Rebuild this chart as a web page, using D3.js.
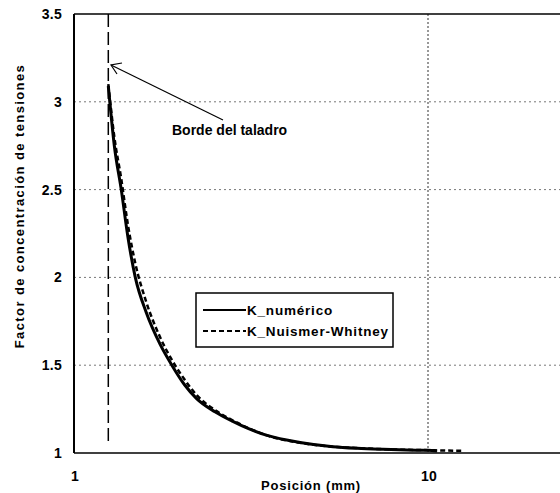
<!DOCTYPE html>
<html>
<head>
<meta charset="utf-8">
<script src="https://cdnjs.cloudflare.com/ajax/libs/d3/7.8.5/d3.min.js"></script>
<style>
  html, body { margin: 0; padding: 0; background: #fff; overflow: hidden; }
  svg { display: block; }
  text { font-family: Arial, "Liberation Sans", sans-serif; font-weight: bold; fill: #000; }
</style>
</head>
<body>
<div id="chart"></div>
<script>
// ---- data ----
var posNumerico = [1.25, 1.3, 1.36, 1.42, 1.49, 1.6, 1.75, 1.89, 2.05, 2.22, 2.5, 2.81, 3.1, 3.51, 4.35, 5.39, 6.3, 7.46, 8.7, 10, 10.6];
var kNumerico   = [3.09, 2.75, 2.5, 2.23, 2.0, 1.8, 1.62, 1.5, 1.39, 1.31, 1.235, 1.18, 1.14, 1.1, 1.06, 1.036, 1.027, 1.021, 1.017, 1.015, 1.012];

var posNuismer = [1.25, 1.3, 1.36, 1.42, 1.49, 1.6, 1.75, 1.89, 2.05, 2.22, 2.5, 2.81, 3.1, 3.51, 4.35, 5.39, 6.3, 7.46, 8.7, 10, 11, 12.6];
var kNuismer   = [3.1, 2.8, 2.56, 2.3, 2.08, 1.86, 1.66, 1.53, 1.42, 1.33, 1.245, 1.185, 1.143, 1.1, 1.058, 1.036, 1.028, 1.022, 1.018, 1.016, 1.014, 1.013];

var bordePos = 1.25;          // hole edge
var yTicks = [1, 1.5, 2, 2.5, 3, 3.5];
var xTicks = [1, 10];
var legendLabels = ["K_numérico", "K_Nuismer-Whitney"];

// ---- layout ----
var attrs = {
  width: 560,
  height: 493,
  left: 74,
  top: 14,
  bottom: 453,
  decade: 354
};

var svg = d3.select("#chart").append("svg")
  .attr("width", attrs.width)
  .attr("height", attrs.height);

// the plot keeps going past the right edge of the picture
var x = d3.scaleLog().domain([1, 100]).range([attrs.left, attrs.left + 2 * attrs.decade]);
var y = d3.scaleLinear().domain([1, 3.5]).range([attrs.bottom, attrs.top]);

// horizontal dotted grid
svg.selectAll(".hgrid").data(yTicks.filter(function(d) { return d > 1 && d < 3.5; }))
  .enter().append("line")
  .attr("class", "hgrid")
  .attr("x1", attrs.left).attr("x2", attrs.width)
  .attr("y1", function(d) { return y(d); }).attr("y2", function(d) { return y(d); })
  .attr("stroke", "#777").attr("stroke-width", 1).attr("stroke-dasharray", "2,3");

// vertical grid at 10
svg.append("line")
  .attr("x1", x(10)).attr("x2", x(10))
  .attr("y1", y(3.5)).attr("y2", y(1))
  .attr("stroke", "#333").attr("stroke-width", 1).attr("stroke-dasharray", "2,2");

// top border + axes
svg.append("line")
  .attr("x1", attrs.left).attr("x2", attrs.width)
  .attr("y1", y(3.5)).attr("y2", y(3.5))
  .attr("stroke", "#000").attr("stroke-width", 1.5);
svg.append("line")
  .attr("x1", attrs.left).attr("x2", attrs.width)
  .attr("y1", y(1)).attr("y2", y(1))
  .attr("stroke", "#000").attr("stroke-width", 1.5);
svg.append("line")
  .attr("x1", attrs.left).attr("x2", attrs.left)
  .attr("y1", y(3.5)).attr("y2", y(1))
  .attr("stroke", "#000").attr("stroke-width", 2);

// y tick labels
svg.selectAll(".ylab").data(yTicks).enter().append("text")
  .attr("class", "ylab")
  .attr("x", attrs.left - 12)
  .attr("y", function(d) { return y(d) + 5; })
  .attr("text-anchor", "end")
  .attr("font-size", 14)
  .attr("letter-spacing", 0.3)
  .text(function(d) { return d; });

// x tick labels
svg.selectAll(".xlab").data(xTicks).enter().append("text")
  .attr("class", "xlab")
  .attr("x", function(d) { return x(d) + 1; })
  .attr("y", 481)
  .attr("text-anchor", "middle")
  .attr("font-size", 14)
  .attr("letter-spacing", 0.3)
  .text(function(d) { return d; });

// axis titles
svg.append("text")
  .attr("x", 311).attr("y", 490)
  .attr("text-anchor", "middle")
  .attr("font-size", 13)
  .attr("letter-spacing", 0.8)
  .text("Posición (mm)");

svg.append("text")
  .attr("transform", "translate(24,206) rotate(-90)")
  .attr("text-anchor", "middle")
  .attr("font-size", 13)
  .attr("letter-spacing", 1.4)
  .text("Factor de concentración de tensiones");

// hole edge dashed line
svg.append("line")
  .attr("x1", x(bordePos)).attr("x2", x(bordePos))
  .attr("y1", y(3.5)).attr("y2", y(1.04))
  .attr("stroke", "#000").attr("stroke-width", 1.5).attr("stroke-dasharray", "13,5");

// curves
var line = d3.line()
  .x(function(d) { return x(d[0]); })
  .y(function(d) { return y(d[1]); })
  .curve(d3.curveMonotoneX);

svg.append("path")
  .datum(d3.zip(posNuismer, kNuismer))
  .attr("d", line)
  .attr("fill", "none").attr("stroke", "#000").attr("stroke-width", 2.5)
  .attr("stroke-dasharray", "5,3");

svg.append("path")
  .datum(d3.zip(posNumerico, kNumerico))
  .attr("d", line)
  .attr("fill", "none").attr("stroke", "#000").attr("stroke-width", 3);

// annotation arrow
svg.append("line")
  .attr("x1", 223).attr("y1", 120).attr("x2", 111).attr("y2", 65)
  .attr("stroke", "#000").attr("stroke-width", 1.2);
svg.append("path")
  .attr("d", "M122,63 L111,65 L117,74")
  .attr("fill", "none").attr("stroke", "#000").attr("stroke-width", 1.2);

svg.append("text")
  .attr("x", 172).attr("y", 135)
  .attr("font-size", 14)
  .text("Borde del taladro");

// legend
var legend = svg.append("g").attr("transform", "translate(196,293)");
legend.append("rect")
  .attr("width", 197).attr("height", 54)
  .attr("fill", "#fff").attr("stroke", "#000").attr("stroke-width", 1.5);

var items = legend.selectAll(".item").data(legendLabels).enter().append("g")
  .attr("class", "item")
  .attr("transform", function(d, i) { return "translate(0," + (17 + i * 21) + ")"; });

items.append("line")
  .attr("x1", 7).attr("x2", 50)
  .attr("stroke", "#000").attr("stroke-width", 2)
  .attr("stroke-dasharray", function(d, i) { return i === 0 ? null : "5,3"; });

items.append("text")
  .attr("x", 51).attr("y", 5)
  .attr("font-size", 13.5)
  .attr("font-weight", "normal")
  .attr("letter-spacing", 0.8)
  .text(function(d) { return d; });
</script>
</body>
</html>
